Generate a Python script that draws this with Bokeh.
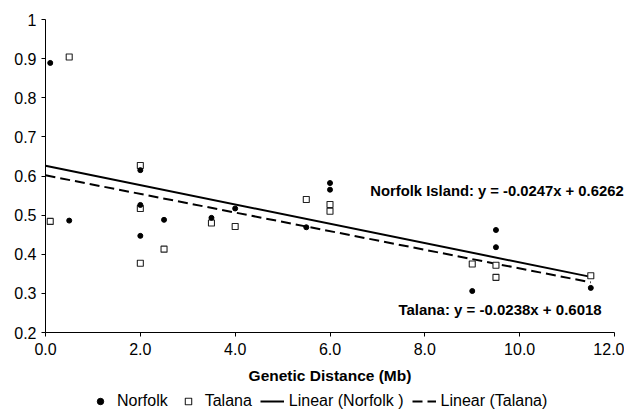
from bokeh.plotting import figure
from bokeh.models import ColumnDataSource, Label, Legend, LegendItem, FixedTicker, Range1d
from bokeh.embed import file_html
from bokeh.resources import INLINE

# ---- data ----
norfolk_x = [0.1, 0.5, 2.0, 2.0, 2.0, 2.5, 3.5, 4.0, 5.5, 6.0, 6.0, 9.0, 9.5, 9.5, 11.5]
norfolk_y = [0.889, 0.486, 0.615, 0.526, 0.447, 0.488, 0.493, 0.517, 0.469, 0.582, 0.565,
             0.306, 0.462, 0.418, 0.314]
talana_x = [0.1, 0.5, 2.0, 2.0, 2.0, 2.5, 3.5, 4.0, 5.5, 6.0, 6.0, 9.0, 9.5, 9.5, 11.5]
talana_y = [0.484, 0.904, 0.627, 0.517, 0.377, 0.413, 0.480, 0.471, 0.540, 0.527, 0.510,
            0.375, 0.372, 0.341, 0.345]

norfolk_slope, norfolk_intercept = -0.0247, 0.6262
talana_slope, talana_intercept = -0.0238, 0.6018
fit_x = [0.0, 11.5]

x_ticks = [0, 2, 4, 6, 8, 10, 12]
x_tick_labels = ["0.0", "2.0", "4.0", "6.0", "8.0", "10.0", "12.0"]
y_ticks = [0.2, 0.3, 0.4, 0.5, 0.6, 0.7, 0.8, 0.9, 1.0]
y_tick_labels = ["0.2", "0.3", "0.4", "0.5", "0.6", "0.7", "0.8", "0.9", "1"]

norfolk_label = "Norfolk Island: y = -0.0247x + 0.6262"
talana_label = "Talana: y = -0.0238x + 0.6018"
x_title = "Genetic Distance (Mb)"

FONT = "Liberation Sans"

# plot area: x 0..12 spans px 45..614, y 0.2..1.0 spans px 332..19
PX_X = 569 / 12.0
PX_Y = 313 / 0.8
W, H = 624, 410
x_start = 0 - 45 / PX_X
x_end = 12 + (W - 614) / PX_X
y_start = 0.2 - (H - 332) / PX_Y
y_end = 1.0 + 19 / PX_Y

p = figure(width=W, height=H, output_backend="svg", toolbar_location=None,
           x_range=Range1d(x_start, x_end), y_range=Range1d(y_start, y_end),
           min_border_left=0, min_border_right=0, min_border_top=0, min_border_bottom=0)
p.outline_line_color = None
p.xgrid.visible = False
p.ygrid.visible = False

norfolk_fit_y = [norfolk_slope * x + norfolk_intercept for x in fit_x]
talana_fit_y = [talana_slope * x + talana_intercept for x in fit_x]

r_nline = p.line(fit_x, norfolk_fit_y, line_color="black", line_width=2)
r_tline = p.line(fit_x, talana_fit_y, line_color="black", line_width=2, line_dash="10 5")

src_n = ColumnDataSource(dict(x=norfolk_x, y=norfolk_y))
src_t = ColumnDataSource(dict(x=talana_x, y=talana_y))
r_t = p.scatter("x", "y", source=src_t, marker="square", size=6, fill_color="white",
                line_color="#222222", line_width=1.1)
r_n = p.scatter("x", "y", source=src_n, marker="circle", size=5, fill_color="black",
                line_color="black")

for ax in (p.xaxis[0], p.yaxis[0]):
    ax.axis_line_color = "black"
    ax.axis_line_width = 1
    ax.major_tick_in = 0
    ax.major_tick_out = 4
    ax.minor_tick_in = 0
    ax.minor_tick_out = 0
    ax.major_label_text_font = FONT
    ax.major_label_text_font_size = "16px"
    ax.major_label_text_color = "black"

p.xaxis.bounds = (0, 12)
p.xaxis.fixed_location = 0.2
p.yaxis.bounds = (0.2, 1.0)
p.yaxis.fixed_location = 0
p.xaxis.ticker = FixedTicker(ticks=x_ticks)
p.xaxis.major_label_overrides = {float(t): l for t, l in zip(x_ticks, x_tick_labels)}
p.yaxis.ticker = FixedTicker(ticks=y_ticks)
p.yaxis.major_label_overrides = {t: l for t, l in zip(y_ticks, y_tick_labels)}
p.xaxis.major_label_standoff = 6
p.yaxis.major_label_standoff = 5

p.xaxis.axis_label = x_title
p.xaxis.axis_label_text_font = FONT
p.xaxis.axis_label_text_font_size = "15.5px"
p.xaxis.axis_label_text_font_style = "bold"
p.xaxis.axis_label_text_color = "black"
p.xaxis.axis_label_standoff = 9

p.add_layout(Label(x=6.85, y=0.5625, text=norfolk_label, text_font=FONT,
                   text_font_size="14.8px", text_font_style="bold", text_baseline="middle",
                   text_color="black"))
p.add_layout(Label(x=7.444, y=0.258, text=talana_label, text_font=FONT,
                   text_font_size="15px", text_font_style="bold", text_baseline="middle",
                   text_color="black"))

legend = Legend(items=[LegendItem(label="Norfolk", renderers=[r_n]),
                       LegendItem(label="Talana", renderers=[r_t]),
                       LegendItem(label="Linear (Norfolk )", renderers=[r_nline]),
                       LegendItem(label="Linear (Talana)", renderers=[r_tline])],
                orientation="horizontal", location=(88, 0), glyph_width=24, glyph_height=16,
                label_height=16, label_standoff=5, spacing=8, padding=0, margin=0,
                border_line_color=None, background_fill_alpha=0,
                label_text_font=FONT, label_text_font_size="16px", label_text_color="black")
p.add_layout(legend)

open("out.html", "w").write(file_html(p, INLINE))
